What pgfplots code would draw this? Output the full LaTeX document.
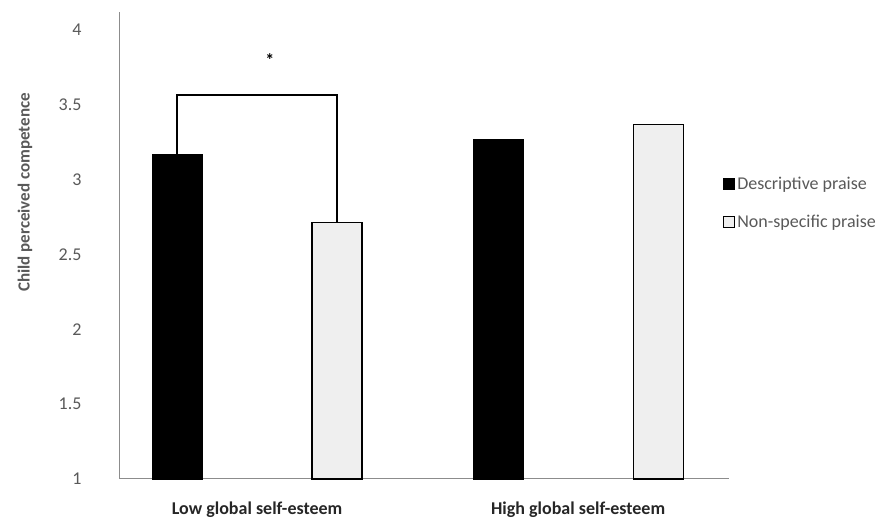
\documentclass[border=0pt]{standalone}
\usepackage{pgfplots}
\pgfplotsset{compat=1.18}
\usepackage{fontspec}
\setmainfont{Carlito}
\definecolor{tickgray}{HTML}{595959}
\definecolor{axgray}{HTML}{8C8C8C}
\definecolor{lightbar}{HTML}{EFEFEF}
\begin{document}
\begin{tikzpicture}
\begin{axis}[
  name=ax,
  scale only axis,
  width=609pt, height=467pt,
  xmin=-0.427, xmax=1.47,
  ymin=1, ymax=4.12,
  axis x line*=bottom, axis y line*=left,
  axis line style={axgray, line width=1pt},
  x axis line style={-}, y axis line style={-},
  xtick={0,1},
  xticklabels={Low global self-esteem, High global self-esteem},
  ytick={1,1.5,2,2.5,3,3.5,4},
  yticklabels={1,1.5,2,2.5,3,3.5,4},
  major tick length=0pt,
  tick label style={font=\fontsize{18}{22}\selectfont, text=tickgray},
  x tick label style={font=\bfseries\fontsize{18}{22}\selectfont, text=black!85, yshift=-19pt},
  y tick label style={xshift=-35pt},
  ylabel={Child perceived competence},
  every axis y label/.style={at={(rel axis cs:0,0.5)}, rotate=90, anchor=center, yshift=95pt, xshift=53pt,
    font=\bfseries\fontsize{17}{21}\selectfont, text=tickgray},
  ybar, bar width=50pt,
  legend cell align=left,
  legend style={at={(rel axis cs:0.985,0.59)}, anchor=west, draw=none, fill=none,
    font=\fontsize{18}{22}\selectfont, text=tickgray, row sep=20pt},
  legend image code/.code={\draw[#1] (0pt,-5pt) rectangle (11pt,6pt);},
  clip=false,
]
\addplot[fill=black, draw=black, line width=0.8pt, bar shift=-80pt] coordinates {(0,3.167) (1,3.267)};
\addlegendentry{Descriptive praise}
\addplot[fill=lightbar, draw=black, line width=1.2pt, bar shift=80pt] coordinates {(0,2.713) (1,3.367)};
\addlegendentry{Non-specific praise}
\addplot[sharp plot, black, line width=1.6pt, forget plot, bar shift=0pt]
  coordinates {(-0.249,3.167) (-0.249,3.565) (0.249,3.565) (0.249,2.713)};
\node[font=\bfseries\fontsize{18}{22}\selectfont] at (axis cs:0.04,3.80) {*};
\end{axis}
\path[use as bounding box] ([xshift=-120pt,yshift=-39pt]ax.south west) rectangle ([xshift=158pt,yshift=12pt]ax.north east);
\end{tikzpicture}
\end{document}
